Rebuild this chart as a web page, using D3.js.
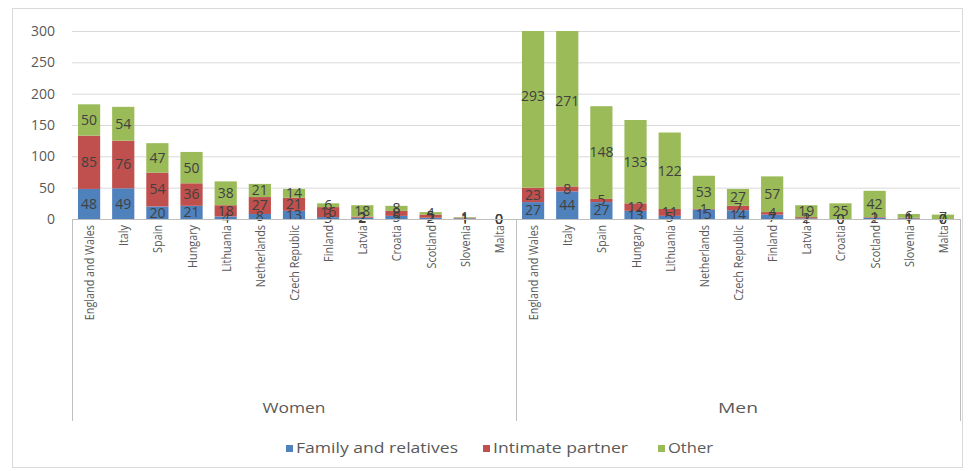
<!DOCTYPE html>
<html lang="en">
<head>
<meta charset="utf-8">
<title>Victims by relationship</title>
<script src="https://cdn.jsdelivr.net/npm/d3@7"></script>
<style>
body { margin: 0; background: #fff; }
text { font-family: "Open Sans", "DejaVu Sans", sans-serif; }
.tick text { fill: #595959; font-size: 14px; }
.lbl { fill: #404040; font-size: 14px; }
.cat { fill: #595959; font-size: 13.5px; }
.grp { fill: #595959; font-size: 14px; }
.leg { fill: #595959; font-size: 14px; }
</style>
</head>
<body>
<script>
// countries (same order in both groups)
var countries = ["England and Wales", "Italy", "Spain", "Hungary", "Lithuania", "Netherlands",
  "Czech Republic", "Finland", "Latvia", "Croatia", "Scotland", "Slovenia", "Malta"];
var groups = ["Women", "Men"];
var seriesNames = ["Family and relatives", "Intimate partner", "Other"];
var colors = ["#4f81bd", "#c0504d", "#9bbb59"];

// values
var womenFamily  = [48, 49, 20, 21, 4, 8, 13, 3, 2, 5, 2, 1, 0];
var womenPartner = [85, 76, 54, 36, 18, 27, 21, 16, 2, 8, 5, 1, 0];
var womenOther   = [50, 54, 47, 50, 38, 21, 14, 6, 18, 8, 4, 1, 0];
var menFamily    = [27, 44, 27, 13, 5, 15, 14, 7, 1, 0, 2, 1, 0];
var menPartner   = [23, 8, 5, 12, 11, 1, 7, 4, 2, 0, 1, 1, 0];
var menOther     = [293, 271, 148, 133, 122, 53, 27, 57, 19, 25, 42, 6, 7];
var yTicks = [0, 50, 100, 150, 200, 250, 300];

var W = 968, H = 471;
var plotL = 72, plotR = 960, plotT = 31, zeroY = 219;

var svg = d3.select("body").append("svg")
  .attr("width", W)
  .attr("height", H);

// outer chart border
svg.append("rect")
  .attr("x", 12.5).attr("y", 8.5)
  .attr("width", 950).attr("height", 459)
  .attr("fill", "none").attr("stroke", "#d9d9d9");

var rows = [];
groups.forEach(function(g, gi) {
  var fam = gi == 0 ? womenFamily : menFamily;
  var par = gi == 0 ? womenPartner : menPartner;
  var oth = gi == 0 ? womenOther : menOther;
  countries.forEach(function(c, i) {
    rows.push({ key: g + "|" + c, country: c, group: g, s0: fam[i], s1: par[i], s2: oth[i] });
  });
});

var x = d3.scaleBand()
  .domain(rows.map(function(d) { return d.key; }))
  .range([plotL, plotR])
  .paddingInner(0.35)
  .paddingOuter(0.175);

var y = d3.scaleLinear()
  .domain([0, 300])
  .range([zeroY, plotT]);

// gridlines + y labels
var yAxis = d3.axisLeft(y).tickValues(yTicks).tickSize(-(plotR - plotL)).tickPadding(17);
var ga = svg.append("g")
  .attr("transform", "translate(" + plotL + ",0)")
  .call(yAxis);
ga.select(".domain").remove();
ga.selectAll(".tick line").attr("stroke", "#d9d9d9");
ga.selectAll(".tick text").attr("font-family", null);

// stacked bars
var stack = d3.stack().keys(["s0", "s1", "s2"]);
var layers = stack(rows);

svg.append("clipPath").attr("id", "plot")
  .append("rect").attr("x", plotL).attr("y", plotT).attr("width", plotR - plotL).attr("height", zeroY - plotT);

var bars = svg.append("g").attr("clip-path", "url(#plot)");
layers.forEach(function(layer, li) {
  bars.selectAll(".b" + li)
    .data(layer)
    .enter().append("rect")
    .attr("x", function(d) { return x(d.data.key); })
    .attr("width", x.bandwidth())
    .attr("y", function(d) { return y(d[1]); })
    .attr("height", function(d) { return y(d[0]) - y(d[1]); })
    .attr("fill", colors[li]);
});

// data labels, centred on each segment
layers.forEach(function(layer, li) {
  svg.append("g").selectAll("text")
    .data(layer)
    .enter().append("text")
    .attr("class", "lbl")
    .attr("x", function(d) { return x(d.data.key) + x.bandwidth() / 2; })
    .attr("y", function(d) { return y((d[0] + d[1]) / 2); })
    .attr("dy", "0.35em")
    .attr("text-anchor", "middle")
    .text(function(d) { return d[1] - d[0]; });
});

// category axis line and group separators
var axisColor = "#bfbfbf";
svg.append("line")
  .attr("x1", plotL).attr("x2", plotR).attr("y1", zeroY + 0.5).attr("y2", zeroY + 0.5)
  .attr("stroke", axisColor);
var mid = (x(groups[0] + "|" + countries[countries.length - 1]) + x.bandwidth() + x(groups[1] + "|" + countries[0])) / 2;
[plotL, mid, plotR].forEach(function(v) {
  svg.append("line")
    .attr("x1", Math.round(v) + 0.5).attr("x2", Math.round(v) + 0.5)
    .attr("y1", zeroY).attr("y2", 421)
    .attr("stroke", axisColor);
});

// rotated country labels (glyphs squeezed along the text like the original)
svg.append("g").selectAll("text")
  .data(rows)
  .enter().append("text")
  .attr("class", "cat")
  .attr("transform", function(d) {
    return "translate(" + (x(d.key) + x.bandwidth() / 2 + 5) + ",225) rotate(-90)";
  })
  .attr("text-anchor", "end")
  .text(function(d) { return d.country; })
  .each(function() {
    var len = this.getComputedTextLength();
    d3.select(this).attr("textLength", len * 0.8).attr("lengthAdjust", "spacingAndGlyphs");
  });

// group labels
var gx = [(plotL + mid) / 2, (mid + plotR) / 2];
var gw = [63, 40];
groups.forEach(function(g, i) {
  svg.append("text")
    .attr("class", "grp")
    .attr("x", gx[i] - gw[i] / 2).attr("y", 413)
    .attr("textLength", gw[i])
    .attr("lengthAdjust", "spacingAndGlyphs")
    .text(g);
});

// legend
var legX = [286, 483, 658];
var legW = [162, 135, 45];
var leg = svg.append("g");
seriesNames.forEach(function(s, i) {
  leg.append("rect")
    .attr("x", legX[i]).attr("y", 445)
    .attr("width", 7).attr("height", 7)
    .attr("fill", colors[i]);
  leg.append("text")
    .attr("class", "leg")
    .attr("x", legX[i] + 10).attr("y", 453)
    .attr("textLength", legW[i])
    .attr("lengthAdjust", "spacingAndGlyphs")
    .text(s);
});
</script>
</body>
</html>
